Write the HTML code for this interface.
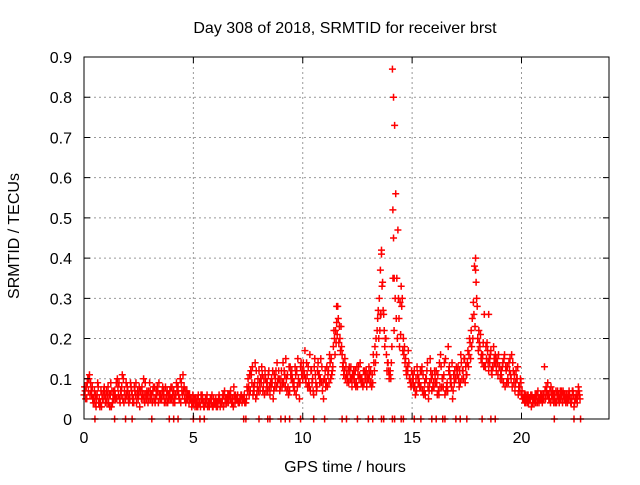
<!DOCTYPE html>
<html><head><meta charset="utf-8"><style>
body{margin:0;background:#fff}
svg text{font-family:"Liberation Sans",sans-serif;font-size:16px;fill:#000}
</style></head><body>
<svg id="chart" width="640" height="480" xmlns="http://www.w3.org/2000/svg">
<rect width="640" height="480" fill="#fff"/>
<text x="345" y="33" text-anchor="middle">Day 308 of 2018, SRMTID for receiver brst</text>
<text x="345" y="472" text-anchor="middle">GPS time / hours</text>
<text transform="translate(19,236) rotate(-90)" text-anchor="middle">SRMTID / TECUs</text>
<g id="grid"></g><g id="pts"></g><g id="axes"></g>
</svg>
<script>
const xTicks=[0,5,10,15,20];
const yTicks=[0,0.1,0.2,0.3,0.4,0.5,0.6,0.7,0.8,0.9];
const yTickLabels=["0","0.1","0.2","0.3","0.4","0.5","0.6","0.7","0.8","0.9"];
const stepHours=0.1;
const seriesA=[.06,.08,.07,.09,.05,.04,.06,.05,.03,.07,
.05,.08,.06,.04,.07,.05,.09,.06,.10,.05,
.07,.05,.06,.08,.04,.06,.07,.05,.09,.06,
.09,.06,.05,.07,.04,.06,.08,.05,.07,.06,
.05,.07,.06,.08,.10,.06,.05,.07,.04,.05,
.04,.05,.03,.04,.06,.03,.05,.04,.05,.03,
.04,.03,.05,.04,.06,.05,.04,.07,.05,.04,
.05,.04,.06,.05,.04,.10,.07,.13,.09,.06,
.12,.09,.08,.10,.07,.06,.09,.11,.08,.12,
.10,.14,.08,.11,.07,.12,.09,.06,.10,.13,
.10,.17,.11,.08,.12,.06,.09,.14,.10,.07,
.10,.13,.09,.15,.18,.22,.28,.20,.16,.12,
.11,.09,.13,.10,.12,.08,.11,.10,.09,.12,
.10,.12,.09,.18,.22,.30,.42,.26,.20,.14,
.12,.87,.73,.35,.25,.33,.20,.15,.12,.10,
.09,.12,.07,.10,.08,.11,.06,.14,.09,.07,
.08,.12,.07,.16,.10,.06,.09,.13,.08,.11,
.10,.13,.09,.12,.15,.11,.16,.22,.29,.40,
.20,.18,.14,.26,.15,.12,.17,.13,.16,.14,
.13,.10,.15,.12,.09,.11,.14,.07,.10,.08,
.06,.05,.04,.06,.05,.04,.05,.06,.04,.05,
.06,.05,.09,.07,.05,.06,.04,.06,.05,.07,
.05,.04,.06,.05,.03,.06,.08];
const seriesB=[.07,.09,.11,.06,.05,.03,.08,.04,.05,.06,
.04,.06,.03,.07,.05,.08,.04,.11,.07,.06,
.04,.08,.05,.06,.07,.03,.08,.06,.05,.07,
.05,.07,.04,.08,.06,.05,.07,.04,.06,.05,
.06,.04,.08,.05,.09,.07,.04,.06,.05,.04,
.05,.03,.04,.06,.04,.05,.03,.04,.06,.04,
.03,.05,.04,.06,.04,.05,.06,.04,.08,.05,
.04,.05,.05,.04,.08,.06,.11,.08,.05,.10,
.07,.11,.06,.09,.12,.08,.05,.10,.09,.07,
.08,.12,.10,.06,.11,.09,.13,.08,.05,.11,
.12,.09,.13,.07,.10,.15,.08,.11,.09,.05,
.08,.11,.14,.12,.20,.24,.19,.23,.14,.10,
.10,.12,.08,.11,.09,.13,.10,.08,.11,.10,
.11,.08,.14,.20,.27,.37,.34,.18,.12,.10,
.14,.80,.56,.47,.29,.30,.18,.11,.14,.08,
.10,.06,.11,.08,.13,.07,.10,.05,.12,.08,
.10,.06,.14,.08,.11,.07,.18,.09,.05,.12,
.12,.08,.14,.10,.13,.17,.19,.25,.38,.30,
.22,.15,.19,.13,.17,.14,.11,.15,.12,.16,
.11,.14,.08,.13,.12,.16,.09,.12,.06,.10,
.05,.04,.06,.05,.03,.05,.04,.07,.05,.04,
.13,.07,.05,.08,.06,.04,.07,.05,.06,.05,
.06,.05,.04,.07,.05,.04,.06];
const seriesC=[.08,.05,.10,.07,.04,.06,.09,.03,.06,.08,
.07,.04,.09,.05,.06,.10,.05,.08,.04,.09,
.05,.09,.04,.07,.06,.08,.05,.10,.06,.04,
.07,.04,.08,.06,.09,.05,.06,.08,.04,.07,
.08,.05,.09,.06,.04,.11,.07,.05,.06,.03,
.05,.04,.06,.03,.05,.04,.06,.03,.04,.05,
.05,.04,.03,.05,.07,.04,.06,.05,.03,.06,
.06,.05,.04,.06,.05,.08,.12,.06,.14,.08,
.09,.13,.10,.07,.11,.09,.12,.08,.14,.10,
.12,.09,.15,.08,.13,.10,.07,.12,.09,.14,
.14,.10,.08,.16,.09,.13,.07,.11,.15,.09,
.12,.08,.16,.11,.22,.19,.25,.17,.13,.15,
.09,.13,.10,.12,.08,.11,.14,.09,.12,.08,
.13,.09,.16,.14,.25,.22,.33,.22,.16,.12,
.10,.35,.30,.20,.18,.28,.16,.12,.17,.09,
.11,.08,.13,.09,.12,.06,.10,.08,.15,.11,
.12,.09,.06,.13,.08,.15,.07,.11,.14,.09,
.13,.10,.16,.12,.09,.14,.20,.18,.26,.34,
.17,.21,.16,.13,.19,.15,.12,.18,.14,.11,
.10,.13,.16,.09,.14,.10,.12,.09,.13,.07,
.07,.06,.05,.04,.06,.05,.06,.04,.05,.06,
.05,.08,.06,.04,.07,.05,.06,.04,.07,.06,
.04,.06,.05,.07,.04,.05,.07];
const seriesD=[.05,.10,.06,.08,.07,.05,.04,.07,.05,.04,
.06,.03,.07,.05,.09,.06,.07,.05,.06,.08,
.06,.07,.04,.09,.05,.07,.06,.04,.07,.05,
.06,.08,.05,.07,.05,.07,.04,.06,.05,.08,
.04,.06,.07,.05,.07,.08,.05,.06,.05,.06,
.03,.05,.04,.05,.03,.04,.04,.05,.03,.04,
.04,.06,.04,.03,.05,.06,.05,.04,.06,.05,
.04,.06,.05,.04,.07,.11,.09,.07,.12,.07,
.10,.07,.12,.09,.08,.10,.07,.12,.10,.08,
.09,.11,.07,.13,.10,.08,.11,.15,.09,.12,
.11,.14,.09,.12,.07,.11,.12,.09,.13,.10,
.09,.12,.10,.13,.16,.21,.23,.18,.11,.13,
.12,.10,.11,.09,.13,.10,.09,.12,.10,.11,
.09,.11,.12,.16,.20,.26,.27,.20,.14,.11,
.18,.22,.25,.30,.21,.17,.14,.13,.10,.12,
.08,.10,.09,.12,.07,.09,.12,.07,.10,.09,
.09,.11,.08,.10,.14,.08,.12,.10,.07,.10,
.11,.12,.10,.15,.11,.13,.15,.20,.23,.28,
.19,.16,.13,.18,.14,.16,.13,.14,.15,.13,
.12,.09,.13,.10,.15,.08,.11,.10,.08,.09,
.05,.06,.04,.05,.06,.04,.06,.05,.06,.05,
.07,.06,.05,.06,.04,.07,.05,.07,.04,.06,
.05,.07,.04,.06,.05,.06,.05];
const extraTimes=[14.12,14.15,14.18,13.55,13.6,17.9,18.5,11.55];
const extraValues=[.52,.45,.35,.26,.41,.37,.26,.28];
const zeroTimes=[0.5,1.4,1.9,2.2,3.1,3.9,4.1,4.3,5.0,5.3,5.5,7.3,7.4,8.0,8.4,8.5,9.0,9.2,9.4,9.9,10.5,11.0,11.8,12.0,12.5,13.0,13.2,13.6,13.7,14.1,14.2,14.5,14.6,15.1,15.4,15.9,16.1,16.4,16.5,17.0,17.2,17.5,18.2,18.6,18.8,21.5,22.4,22.7];

const L=84,R=609,T=57,B=419;
const xs=t=>L+t/24*(R-L);
const ys=v=>B-v/0.9*(B-T);
const NS="http://www.w3.org/2000/svg";
function mk(tag,attrs,parent){const e=document.createElementNS(NS,tag);for(const k in attrs)e.setAttribute(k,attrs[k]);parent.appendChild(e);return e;}
const grid=document.getElementById('grid'),pts=document.getElementById('pts'),axes=document.getElementById('axes');
xTicks.forEach(t=>{
  const x=xs(t);
  if(t>0){const g=mk('line',{x1:x,x2:x,y1:T,y2:B,stroke:'#999','stroke-dasharray':'2,3'},grid);
  
  }
  const tk=mk('path',{d:`M${x},${B}v-6M${x},${T}v6`,stroke:'#000'},axes);
  
  
  const lb=mk('text',{x:x,y:B+24,'text-anchor':'middle'},axes);lb.textContent=t;
  
  
});
yTicks.forEach((v,i)=>{
  const y=ys(v);
  if(i>0&&i<yTicks.length-1){const g=mk('line',{x1:L,x2:R,y1:y,y2:y,stroke:'#999','stroke-dasharray':'2,3'},grid);
  
  }
  const tk=mk('path',{d:`M${L},${y}h6M${R},${y}h-6`,stroke:'#000'},axes);
  
  
  const lb=mk('text',{x:L-12,y:y+6,'text-anchor':'end'},axes);lb.textContent=yTickLabels[i];
  
  
});
const frame=mk('rect',{x:L,y:T,width:R-L,height:B-T,fill:'none',stroke:'#000'},axes);


function plus(t,v){
  const x=xs(t),y=ys(v);
  const p=mk('path',{d:`M${x-3.5},${y}h7M${x},${y-3.5}v7`,stroke:'#f00','stroke-width':1.5},pts);
  
  
}
seriesA.forEach((v,i)=>plus(i*stepHours,v));
seriesB.forEach((v,i)=>plus(i*stepHours+stepHours/2,v));
seriesC.forEach((v,i)=>plus(i*stepHours+stepHours/4,v));
seriesD.forEach((v,i)=>plus(i*stepHours+3*stepHours/4,v));
extraTimes.forEach((t,i)=>plus(t,extraValues[i]));
zeroTimes.forEach(t=>plus(t,0));
</script>
</body></html>
